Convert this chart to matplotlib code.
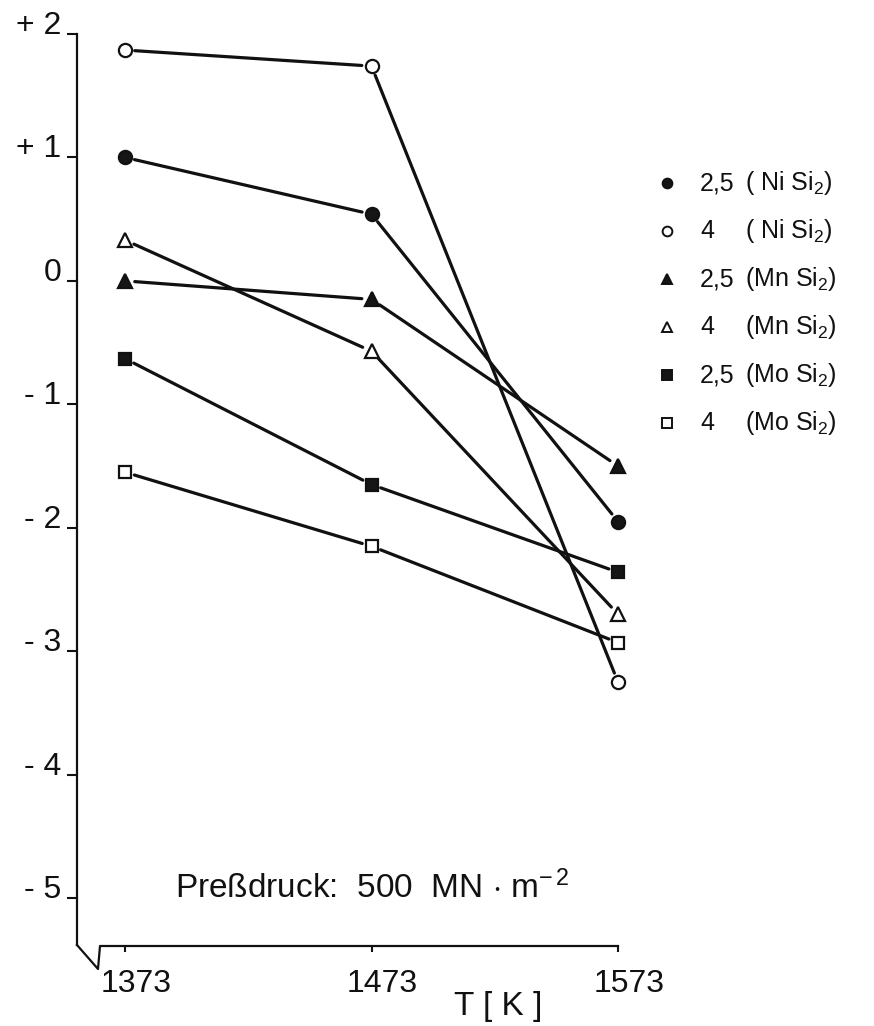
import matplotlib
matplotlib.use("Agg")
import matplotlib.pyplot as plt
from matplotlib.lines import Line2D

plt.rcParams.update({
    "font.family": ["Liberation Sans", "DejaVu Sans"],
    "mathtext.fontset": "custom",
    "mathtext.rm": "Liberation Sans",
    "mathtext.it": "Liberation Sans",
})

# sintering temperatures (K)
temps = [1373, 1473, 1573]

# one series per additive content / silicide
series_amount = ["2,5", "4", "2,5", "4", "2,5", "4"]
series_phase = ["( Ni Si$_2$)", "( Ni Si$_2$)", "(Mn Si$_2$)", "(Mn Si$_2$)", "(Mo Si$_2$)", "(Mo Si$_2$)"]
ni_25 = [1.00, 0.54, -1.95]
ni_4 = [1.87, 1.74, -3.25]
mn_25 = [0.00, -0.15, -1.50]
mn_4 = [0.33, -0.57, -2.70]
mo_25 = [-0.63, -1.65, -2.36]
mo_4 = [-1.55, -2.15, -2.93]
series_values = [ni_25, ni_4, mn_25, mn_4, mo_25, mo_4]

y_ticks = [-5, -4, -3, -2, -1, 0, 1, 2]
y_tick_labels = ["- 5", "- 4", "- 3", "- 2", "- 1", "0", "+ 1", "+ 2"]
x_label = "T [ K ]"
note = "Preßdruck:  500  MN $\\cdot$ m$^{-\\,2}$"

markers = ["o", "o", "^", "^", "s", "s"]
filled = [True, False, True, False, True, False]
msize = [9.5, 9.5, 10, 10, 8.5, 8.5]
ink = "#111111"

W, H = 874, 1026
fig = plt.figure(figsize=(W / 100, H / 100), dpi=100)


def px(x, y):
    return x / W, 1 - y / H


ax = fig.add_axes([77 / W, 1 - 945 / H, (618 - 77) / W, (945 - 34) / H])
ax.set_xlim(1353.5, 1573)
ax.set_ylim(-5.38, 2.0)

for vals, m, f, ms in zip(series_values, markers, filled, msize):
    face = "#161616" if f else "white"
    ax.plot(temps, vals, linestyle="none", marker=m, markersize=ms,
            markerfacecolor=face, markeredgecolor=ink,
            markeredgewidth=1.6, zorder=3, clip_on=False)
    # connecting segments stop short of the symbols
    for i in range(len(temps) - 1):
        ax.annotate("", xy=(temps[i + 1], vals[i + 1]), xytext=(temps[i], vals[i]),
                    arrowprops=dict(arrowstyle="-", color=ink, lw=2.3,
                                    shrinkA=7, shrinkB=7))

# axes frame: left spine plus broken bottom axis
for s in ["top", "right", "bottom"]:
    ax.spines[s].set_visible(False)
ax.spines["left"].set_linewidth(1.6)
ax.spines["left"].set_color(ink)

ax.set_yticks(y_ticks)
ax.set_yticklabels(y_tick_labels, fontsize=23)
for lbl in ax.get_yticklabels():
    lbl.set_verticalalignment("baseline")
ax.tick_params(axis="y", direction="out", length=7, width=1.5, pad=4, colors=ink)

ax.set_xticks(temps)
ax.set_xticklabels([])
ax.tick_params(axis="x", direction="out", length=5, width=1.5, colors=ink)
for t in temps:
    ax.annotate(str(t), xy=(t, 0), xycoords=("data", "axes fraction"),
                xytext=(8, -17), textcoords="offset points",
                ha="center", va="top", fontsize=23, color=ink)

bx = [px(77, 945), px(98, 969), px(100, 946), px(618, 946)]
fig.add_artist(Line2D([p[0] for p in bx], [p[1] for p in bx], color=ink, lw=1.6))

fig.text(*px(498, 1007), x_label, fontsize=24, ha="center", va="center", color=ink)
fig.text(*px(175, 898), note, fontsize=24, ha="left", va="baseline", color=ink)

# legend
for i, (amt, phase, m, f) in enumerate(zip(series_amount, series_phase, markers, filled)):
    yrow = 183 + 48 * i
    face = "#161616" if f else "white"
    mx, my = px(667, yrow)
    fig.add_artist(Line2D([mx], [my], linestyle="none",
                          marker=m, markersize=7 if m != "s" else 6.5,
                          markerfacecolor=face, markeredgecolor=ink, markeredgewidth=1.4))
    fig.text(*px(700, yrow), amt, fontsize=18, ha="left", va="center", color=ink)
    fig.text(*px(745, yrow), phase, fontsize=18, ha="left", va="center", color=ink)

fig.savefig("out.png", dpi=100)
